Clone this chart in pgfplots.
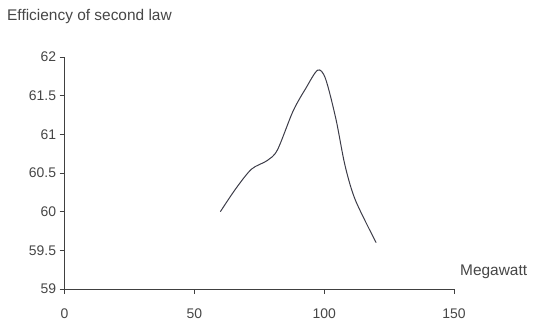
\documentclass[border=0pt]{standalone}
\usepackage{pgfplots}
\pgfplotsset{compat=1.18}
\usepackage{fontspec}
\setmainfont{Liberation Sans}
\definecolor{txt}{RGB}{70,70,70}
\definecolor{ln}{RGB}{60,60,72}
\begin{document}
\begin{tikzpicture}
\path[use as bounding box] (0,0) rectangle (533bp,322bp);
\begin{axis}[
 at={(64.6bp,33bp)}, anchor=south west,
 scale only axis, width=389.4bp, height=232bp,
 xmin=0,xmax=150,ymin=59,ymax=62,
 axis x line*=left, axis y line*=left,
 axis line style={draw=black!75, line width=0.9pt},
 xtick={0,50,100,150}, ytick={59,59.5,60,60.5,61,61.5,62},
 tick align=outside, major tick length=5bp,
 tick style={draw=black!75, line width=0.8pt},
 ticklabel style={font=\fontsize{14}{16}\selectfont, text=txt},
 /pgf/number format/assume math mode=true,
 xticklabel style={yshift=-11bp},
 clip=false,
]
\addplot[smooth, ln, line width=1pt] coordinates {
(60,60.0) (66,60.3) (72,60.55) (78,60.66) (82,60.8) (88,61.3) (93,61.6) (97.5,61.83) (100.5,61.72) (104.5,61.2) (108,60.6) (112,60.15) (120,59.6)
};
\end{axis}
\node[anchor=west, font=\fontsize{15.5}{18}\selectfont, text=txt, inner sep=0pt] at (7bp,305bp) {Efficiency of second law};
\node[anchor=west, font=\fontsize{15.5}{18}\selectfont, text=txt, inner sep=0pt] at (460bp,50bp) {Megawatt};
\end{tikzpicture}
\end{document}
